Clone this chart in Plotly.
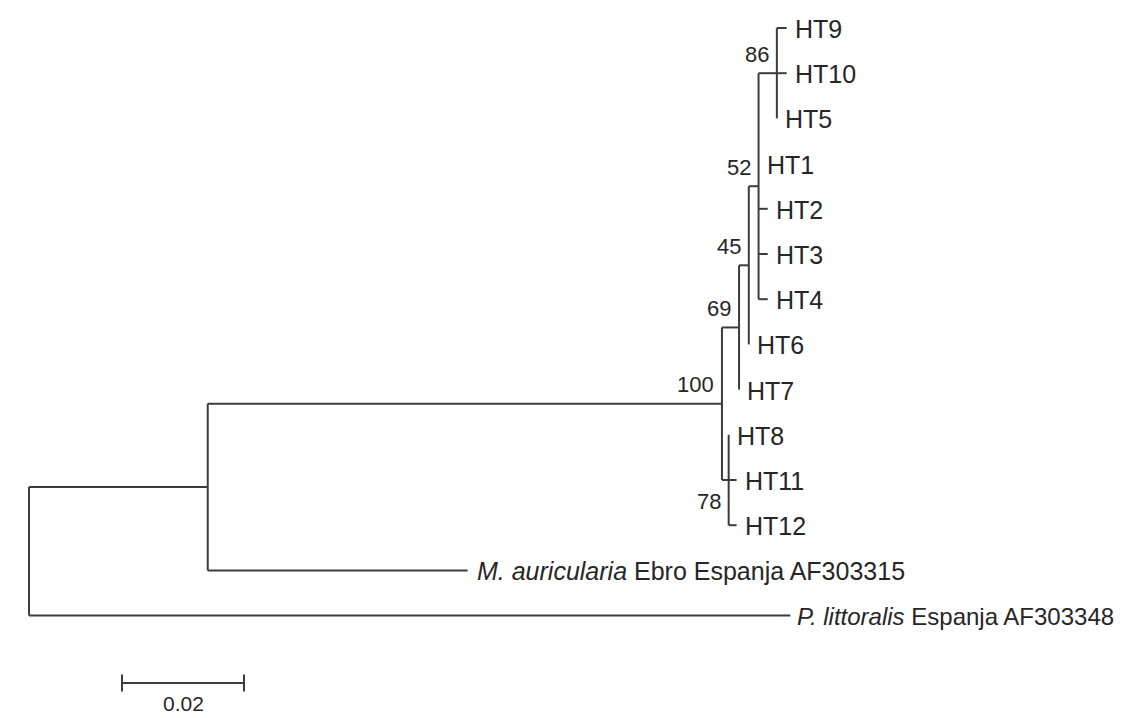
import plotly.graph_objects as go

# ---------------- data ----------------
# tree nodes (internal + leaves), their parents and branch lengths (substitutions/site)
node_names = ["root", "A", "B", "N78", "N69", "N45", "N52", "N86",
              "HT9", "HT10", "HT5", "HT1", "HT2", "HT3", "HT4", "HT6", "HT7",
              "HT8", "HT11", "HT12", "Maur", "Plit"]
node_parents = [None, "root", "A", "B", "B", "N69", "N45", "N52",
                "N86", "N86", "N86", "N52", "N52", "N52", "N52", "N45", "N69",
                "N78", "N78", "N78", "A", "root"]
branch_lengths = [0.0, 0.0293, 0.0843, 0.0011, 0.0028, 0.0016, 0.0016, 0.0030,
                  0.0016, 0.0016, 0.0, 0.0, 0.0015, 0.0015, 0.0015, 0.0, 0.0,
                  0.0, 0.0013, 0.0013, 0.0426, 0.1248]
# leaves top-to-bottom and their displayed labels
leaf_order = ["HT9", "HT10", "HT5", "HT1", "HT2", "HT3", "HT4", "HT6", "HT7",
              "HT8", "HT11", "HT12", "Maur", "Plit"]
leaf_labels = ["HT9", "HT10", "HT5", "HT1", "HT2", "HT3", "HT4", "HT6", "HT7",
               "HT8", "HT11", "HT12",
               "<i>M. auricularia</i> Ebro Espanja AF303315",
               "<i>P. littoralis</i> Espanja AF303348"]
# bootstrap support
bootstrap_nodes = ["N86", "N52", "N45", "N69", "B", "N78"]
bootstrap_values = [86, 52, 45, 69, 100, 78]
scale_value = 0.02
scale_label = "0.02"

# ---------------- layout helpers ----------------
PAGE_OFF = 8                      # default page body margin
W, H = 1130 - PAGE_OFF, 718 - PAGE_OFF
PX_PER_UNIT = 6100.0
ROOT_PX = 29 - PAGE_OFF
TOP_PX, ROW_PX = 28 - PAGE_OFF, 45.2
LINE = dict(color="#3c3c3c", width=2)
FONT = "Arial, Liberation Sans, sans-serif"
TXT = "#262626"
below_labels = {"N78"}
label_size = {"Plit": 24}
label_shift = {"Plit": 5, "Maur": 7}

parent = dict(zip(node_names, node_parents))
blen = dict(zip(node_names, branch_lengths))
children = {n: [] for n in node_names}
for n, p in zip(node_names, node_parents):
    if p is not None:
        children[p].append(n)

xpos = {}
def set_x(n, acc):
    xpos[n] = acc
    for c in children[n]:
        set_x(c, acc + blen[c])
set_x("root", 0.0)

ypos = {leaf: i for i, leaf in enumerate(leaf_order)}
def set_y(n):
    if n in ypos:
        return ypos[n]
    ys = [set_y(c) for c in children[n]]
    ypos[n] = (min(ys) + max(ys)) / 2.0
    return ypos[n]
set_y("root")

xs, ys = [], []
for n in node_names:
    p = parent[n]
    if p is not None:
        xs += [xpos[p], xpos[n], None]
        ys += [ypos[n], ypos[n], None]
    if children[n]:
        cy = [ypos[c] for c in children[n]]
        xs += [xpos[n], xpos[n], None]
        ys += [min(cy), max(cy), None]

fig = go.Figure()
fig.add_trace(go.Scatter(x=xs, y=ys, mode="lines", line=LINE,
                         hoverinfo="skip", showlegend=False))

ann = []
for leaf, lab in zip(leaf_order, leaf_labels):
    ann.append(dict(x=xpos[leaf], y=ypos[leaf], text=lab, showarrow=False,
                    xanchor="left", yanchor="middle",
                    xshift=label_shift.get(leaf, 6), yshift=-1,
                    font=dict(family=FONT, size=label_size.get(leaf, 25), color=TXT)))
for n, v in zip(bootstrap_nodes, bootstrap_values):
    below = n in below_labels
    ann.append(dict(x=xpos[n], y=ypos[n], text=str(v), showarrow=False,
                    xanchor="right", yanchor="middle", xshift=-6,
                    yshift=-21 if below else 19,
                    font=dict(family=FONT, size=22, color=TXT)))

# scale bar
sb_x0 = (122 - 29) / PX_PER_UNIT
sb_y = (683 - 28) / ROW_PX
tick = 8.5 / ROW_PX
fig.add_trace(go.Scatter(
    x=[sb_x0, sb_x0 + scale_value, None, sb_x0, sb_x0, None,
       sb_x0 + scale_value, sb_x0 + scale_value],
    y=[sb_y, sb_y, None, sb_y - tick, sb_y + tick, None, sb_y - tick, sb_y + tick],
    mode="lines", line=LINE, hoverinfo="skip", showlegend=False))
ann.append(dict(x=sb_x0 + scale_value / 2, y=sb_y, text=scale_label, showarrow=False,
                xanchor="center", yanchor="middle", yshift=-20,
                font=dict(family=FONT, size=21, color=TXT)))

x_min = -ROOT_PX / PX_PER_UNIT
x_max = (W - ROOT_PX) / PX_PER_UNIT
y_top = -TOP_PX / ROW_PX
y_bot = (H - TOP_PX) / ROW_PX

fig.update_layout(
    width=W, height=H, margin=dict(l=0, r=0, t=0, b=0),
    paper_bgcolor="white", plot_bgcolor="white",
    xaxis=dict(range=[x_min, x_max], visible=False, fixedrange=True),
    yaxis=dict(range=[y_bot, y_top], visible=False, fixedrange=True),
    annotations=ann,
)
fig.write_html("out.html")
